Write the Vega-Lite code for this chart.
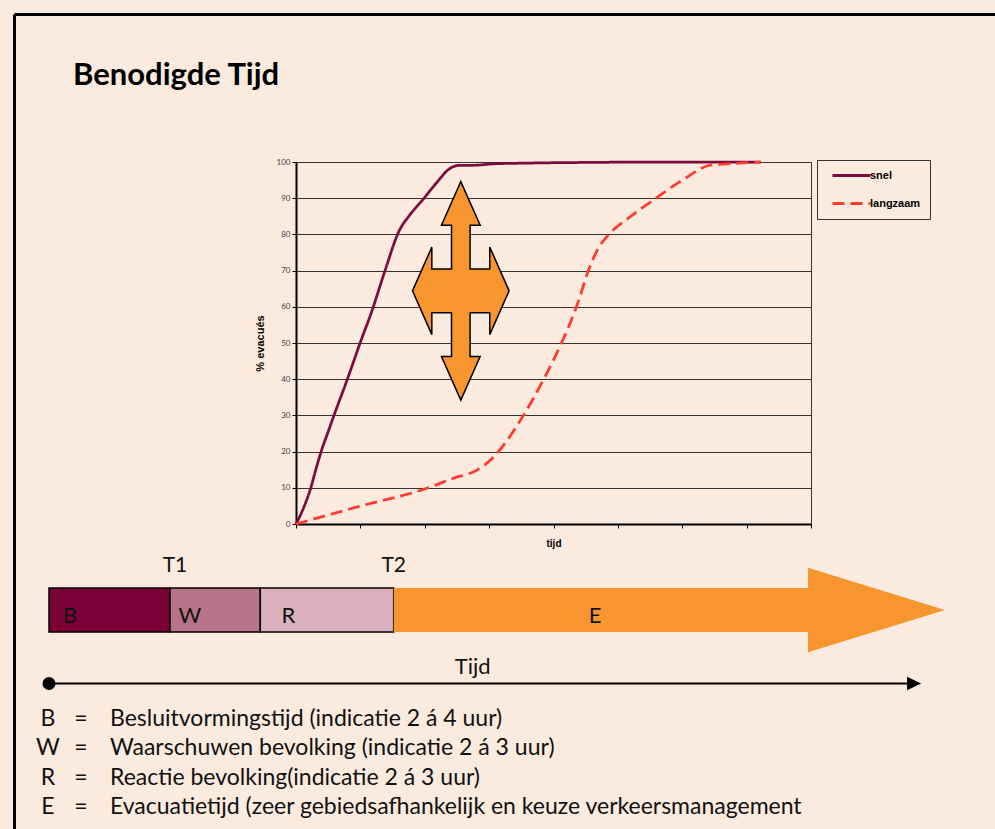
{
  "$schema": "https://vega.github.io/schema/vega-lite/v6.json",
  "background": "#fbeade",
  "padding": {"left": 12, "top": 13, "right": 0, "bottom": 0},
  "autosize": {"type": "pad"},
  "config": {"view": {"stroke": null}, "font": "Lato"},
  "datasets": {
    "curves": [
      {"reeks": "snel", "tijd": 0, "pct": 0},
      {"reeks": "snel", "tijd": 0.07, "pct": 2.5},
      {"reeks": "snel", "tijd": 0.13, "pct": 5},
      {"reeks": "snel", "tijd": 0.23, "pct": 10},
      {"reeks": "snel", "tijd": 0.3, "pct": 14.5},
      {"reeks": "snel", "tijd": 0.39, "pct": 20},
      {"reeks": "snel", "tijd": 0.5, "pct": 25.5},
      {"reeks": "snel", "tijd": 0.6, "pct": 30.5},
      {"reeks": "snel", "tijd": 0.79, "pct": 39.6},
      {"reeks": "snel", "tijd": 1.0, "pct": 50.2},
      {"reeks": "snel", "tijd": 1.18, "pct": 58.9},
      {"reeks": "snel", "tijd": 1.39, "pct": 70.4},
      {"reeks": "snel", "tijd": 1.6, "pct": 80.9},
      {"reeks": "snel", "tijd": 1.76, "pct": 85.2},
      {"reeks": "snel", "tijd": 1.97, "pct": 89.6},
      {"reeks": "snel", "tijd": 2.18, "pct": 94.2},
      {"reeks": "snel", "tijd": 2.39, "pct": 98.2},
      {"reeks": "snel", "tijd": 2.55, "pct": 99.1},
      {"reeks": "snel", "tijd": 2.76, "pct": 99.1},
      {"reeks": "snel", "tijd": 3.07, "pct": 99.5},
      {"reeks": "snel", "tijd": 3.6, "pct": 99.7},
      {"reeks": "snel", "tijd": 4.65, "pct": 99.9},
      {"reeks": "snel", "tijd": 5.7, "pct": 100},
      {"reeks": "snel", "tijd": 7.22, "pct": 100},
      {"reeks": "langzaam", "tijd": 0, "pct": 0},
      {"reeks": "langzaam", "tijd": 0.97, "pct": 4.8},
      {"reeks": "langzaam", "tijd": 2.02, "pct": 9.8},
      {"reeks": "langzaam", "tijd": 2.44, "pct": 12.6},
      {"reeks": "langzaam", "tijd": 2.81, "pct": 14.9},
      {"reeks": "langzaam", "tijd": 3.07, "pct": 18.5},
      {"reeks": "langzaam", "tijd": 3.28, "pct": 23.1},
      {"reeks": "langzaam", "tijd": 3.55, "pct": 30.5},
      {"reeks": "langzaam", "tijd": 3.81, "pct": 38.7},
      {"reeks": "langzaam", "tijd": 4.07, "pct": 47.9},
      {"reeks": "langzaam", "tijd": 4.23, "pct": 54.3},
      {"reeks": "langzaam", "tijd": 4.39, "pct": 61.7},
      {"reeks": "langzaam", "tijd": 4.54, "pct": 69.9},
      {"reeks": "langzaam", "tijd": 4.7, "pct": 76.3},
      {"reeks": "langzaam", "tijd": 4.86, "pct": 80},
      {"reeks": "langzaam", "tijd": 5.17, "pct": 84.6},
      {"reeks": "langzaam", "tijd": 5.6, "pct": 90.1},
      {"reeks": "langzaam", "tijd": 6.02, "pct": 95.2},
      {"reeks": "langzaam", "tijd": 6.43, "pct": 99.1},
      {"reeks": "langzaam", "tijd": 6.8, "pct": 99.6},
      {"reeks": "langzaam", "tijd": 7.22, "pct": 100}
    ],
    "kruispijl": [{"tijd": 2.56, "pct": 64.4}],
    "fasen": [
      {"fase": "B", "start": 0, "eind": 4.033, "labelpos": 0.707},
      {"fase": "W", "start": 4.033, "eind": 7.043, "labelpos": 4.693},
      {"fase": "R", "start": 7.043, "eind": 11.49, "labelpos": 7.983},
      {"fase": "E", "start": 11.49, "eind": 25.3, "labelpos": 18.2}
    ],
    "markeringen": [
      {"label": "T1", "t": 4.2},
      {"label": "T2", "t": 11.49}
    ],
    "uitleg": [
      {"code": "B", "regel": 0, "tekst": "Besluitvormingstijd (indicatie 2 á 4 uur)"},
      {"code": "W", "regel": 1, "tekst": "Waarschuwen bevolking (indicatie 2 á 3 uur)"},
      {"code": "R", "regel": 2, "tekst": "Reactie bevolking(indicatie 2 á 3 uur)"},
      {"code": "E", "regel": 3, "tekst": "Evacuatietijd (zeer gebiedsafhankelijk en keuze verkeersmanagement"}
    ],
    "leeg": [{}]
  },
  "bounds": "flush",
  "center": true,
  "spacing": 20,
  "vconcat": [
    {
      "width": 515,
      "height": 362,
      "view": {"stroke": "#333", "strokeWidth": 1},
      "layer": [
        {
          "data": {"name": "curves"},
          "mark": {"type": "line", "interpolate": "monotone", "strokeWidth": 2.75},
          "encoding": {
            "x": {
              "field": "tijd", "type": "quantitative",
              "scale": {"domain": [0, 8], "nice": false, "zero": false},
              "axis": {
                "title": "tijd", "values": [0, 1, 2, 3, 4, 5, 6, 7, 8], "tickCount": 9, "labels": false, "grid": false,
                "tickSize": 4, "tickColor": "#000", "domainColor": "#000", "domainWidth": 2,
                "titleFont": "Liberation Sans", "titleFontSize": 10, "titleFontWeight": "bold",
                "titleColor": "#000", "titlePadding": 10
              }
            },
            "y": {
              "field": "pct", "type": "quantitative",
              "scale": {"domain": [0, 100], "nice": false},
              "axis": {
                "title": "% evacués", "values": [0, 10, 20, 30, 40, 50, 60, 70, 80, 90, 100],
                "tickCount": 11, "labelOverlap": false,
                "grid": true, "gridColor": "#333", "gridWidth": 1,
                "tickSize": 4, "tickColor": "#000", "domainColor": "#000", "domainWidth": 2,
                "labelFont": "Lato", "labelFontSize": 8, "labelColor": "#444", "labelPadding": 2,
                "titleFont": "Liberation Sans", "titleFontSize": 11, "titleFontWeight": "bold",
                "titleColor": "#000", "titlePadding": 11
              }
            },
            "color": {
              "field": "reeks", "type": "nominal",
              "scale": {"domain": ["snel", "langzaam"], "range": ["#7a0c3e", "#ff3b30"]},
              "legend": {
                "orient": "none", "legendX": 768, "legendY": -2, "title": null,
                "strokeColor": "#333", "padding": 9, "symbolOffset": 19,
                "symbolType": "M-3.8,0L3.8,0", "symbolSize": 100, "symbolStrokeWidth": 3,
                "labelFont": "Liberation Sans", "labelFontSize": 11, "labelFontWeight": "bold",
                "labelColor": "#000", "labelOffset": 12, "rowPadding": 15
              }
            },
            "strokeDash": {
              "field": "reeks", "type": "nominal",
              "scale": {"domain": ["snel", "langzaam"], "range": [[1, 0], [12, 6]]},
              "legend": {
                "orient": "none", "legendX": 768, "legendY": -2, "title": null,
                "strokeColor": "#333", "padding": 9, "symbolOffset": 19,
                "symbolType": "M-3.8,0L3.8,0", "symbolSize": 100, "symbolStrokeWidth": 3,
                "labelFont": "Liberation Sans", "labelFontSize": 11, "labelFontWeight": "bold",
                "labelColor": "#000", "labelOffset": 12, "rowPadding": 15
              }
            }
          }
        },
        {
          "data": {"name": "kruispijl"},
          "mark": {
            "type": "point",
            "shape": "M0,-1L0.177,-0.6L0.085,-0.6L0.085,-0.2L0.265,-0.2L0.265,-0.4L0.442,0L0.265,0.4L0.265,0.2L0.085,0.2L0.085,0.6L0.177,0.6L0,1L-0.177,0.6L-0.085,0.6L-0.085,0.2L-0.265,0.2L-0.265,0.4L-0.442,0L-0.265,-0.4L-0.265,-0.2L-0.085,-0.2L-0.085,-0.6L-0.177,-0.6Z",
            "size": 47786, "filled": true, "fill": "#f7962f", "stroke": "#000",
            "strokeWidth": 1.5, "opacity": 1, "fillOpacity": 1
          },
          "encoding": {
            "x": {"field": "tijd", "type": "quantitative", "axis": {
                "title": "tijd", "values": [0, 1, 2, 3, 4, 5, 6, 7, 8], "tickCount": 9, "labels": false, "grid": false,
                "tickSize": 4, "tickColor": "#000", "domainColor": "#000", "domainWidth": 2,
                "titleFont": "Liberation Sans", "titleFontSize": 10, "titleFontWeight": "bold",
                "titleColor": "#000", "titlePadding": 10
              }},
            "y": {"field": "pct", "type": "quantitative", "axis": {
                "title": "% evacués", "values": [0, 10, 20, 30, 40, 50, 60, 70, 80, 90, 100],
                "tickCount": 11, "labelOverlap": false,
                "grid": true, "gridColor": "#333", "gridWidth": 1,
                "tickSize": 4, "tickColor": "#000", "domainColor": "#000", "domainWidth": 2,
                "labelFont": "Lato", "labelFontSize": 8, "labelColor": "#444", "labelPadding": 2,
                "titleFont": "Liberation Sans", "titleFontSize": 11, "titleFontWeight": "bold",
                "titleColor": "#000", "titlePadding": 11
              }}
          }
        }
      ]
    },
    {
      "width": 1009,
      "height": 300,
      "layer": [
        {
          "data": {"name": "leeg"},
          "mark": {"type": "rule", "stroke": "#000", "strokeWidth": 3},
          "encoding": {
            "x": {"datum": -1.15, "type": "quantitative", "scale": {"domain": [0, 33.633], "nice": false, "zero": false}, "axis": null},
            "y": {"datum": -24.283, "type": "quantitative", "scale": {"domain": [-6.212, 4.027], "nice": false, "zero": false, "reverse": true}, "axis": null},
            "y2": {"datum": 8}
          }
        },
        {
          "data": {"name": "leeg"},
          "mark": {"type": "rule", "stroke": "#000", "strokeWidth": 3},
          "encoding": {
            "x": {"datum": -1.15, "type": "quantitative"},
            "x2": {"datum": 40},
            "y": {"datum": -24.283, "type": "quantitative"}
          }
        },
        {
          "data": {"name": "leeg"},
          "mark": {"type": "text", "text": "Benodigde Tijd", "align": "left", "baseline": "alphabetic", "font": "Lato", "fontSize": 31, "fontWeight": "bold", "color": "#000"},
          "encoding": {
            "x": {"datum": 0.8, "type": "quantitative"},
            "y": {"datum": -21.877, "type": "quantitative"}
          }
        },
        {
          "data": {"name": "fasen"},
          "transform": [{"filter": "datum.fase !== 'E'"}],
          "mark": {"type": "rect", "stroke": "#000", "strokeWidth": 1.5},
          "encoding": {
            "x": {"field": "start", "type": "quantitative"},
            "x2": {"field": "eind"},
            "y": {"datum": -4.71, "type": "quantitative"},
            "y2": {"datum": -3.208},
            "fill": {"field": "fase", "type": "nominal", "scale": {"domain": ["B", "W", "R", "E"], "range": ["#7b0037", "#b77489", "#d9b0bb", "#f7962f"]}, "legend": null}
          }
        },
        {
          "data": {"name": "fasen"},
          "transform": [{"filter": "datum.fase === 'E'"}],
          "mark": {"type": "rect", "strokeWidth": 0},
          "encoding": {
            "x": {"field": "start", "type": "quantitative"},
            "x2": {"field": "eind"},
            "y": {"datum": -4.71, "type": "quantitative"},
            "y2": {"datum": -3.208},
            "fill": {"field": "fase", "type": "nominal", "legend": null}
          }
        },
        {
          "data": {"name": "fasen"},
          "transform": [{"filter": "datum.fase === 'E'"}],
          "mark": {"type": "point", "shape": "M0,-1L3.246,0L0,1Z", "size": 7123, "filled": true, "opacity": 1, "strokeWidth": 0},
          "encoding": {
            "x": {"field": "eind", "type": "quantitative"},
            "y": {"datum": -3.959, "type": "quantitative"},
            "fill": {"field": "fase", "type": "nominal", "legend": null}
          }
        },
        {
          "data": {"name": "fasen"},
          "mark": {"type": "text", "align": "center", "baseline": "alphabetic", "font": "Lato", "fontSize": 22, "color": "#111"},
          "encoding": {
            "x": {"field": "labelpos", "type": "quantitative"},
            "y": {"datum": -3.526, "type": "quantitative"},
            "text": {"field": "fase"}
          }
        },
        {
          "data": {"name": "markeringen"},
          "mark": {"type": "text", "align": "center", "baseline": "alphabetic", "font": "Lato", "fontSize": 21, "color": "#111"},
          "encoding": {
            "x": {"field": "t", "type": "quantitative"},
            "y": {"datum": -5.256, "type": "quantitative"},
            "text": {"field": "label"}
          }
        },
        {
          "data": {"name": "leeg"},
          "mark": {"type": "rule", "stroke": "#000", "strokeWidth": 2},
          "encoding": {
            "x": {"datum": 0, "type": "quantitative"},
            "x2": {"datum": 28.9},
            "y": {"datum": -1.451, "type": "quantitative"}
          }
        },
        {
          "data": {"name": "leeg"},
          "mark": {"type": "point", "shape": "circle", "size": 170, "filled": true, "color": "#000", "opacity": 1},
          "encoding": {
            "x": {"datum": 0, "type": "quantitative"},
            "y": {"datum": -1.451, "type": "quantitative"}
          }
        },
        {
          "data": {"name": "leeg"},
          "mark": {"type": "point", "shape": "M-2.09,-1L0,0L-2.09,1Z", "size": 180, "filled": true, "color": "#000", "opacity": 1},
          "encoding": {
            "x": {"datum": 29.07, "type": "quantitative"},
            "y": {"datum": -1.451, "type": "quantitative"}
          }
        },
        {
          "data": {"name": "leeg"},
          "mark": {"type": "text", "text": "Tijd", "align": "center", "baseline": "alphabetic", "font": "Lato", "fontSize": 22, "color": "#111"},
          "encoding": {
            "x": {"datum": 14.123, "type": "quantitative"},
            "y": {"datum": -1.775, "type": "quantitative"}
          }
        },
        {
          "data": {"name": "uitleg"},
          "mark": {"type": "text", "align": "center", "baseline": "alphabetic", "font": "Lato", "fontSize": 23, "color": "#111"},
          "encoding": {
            "x": {"datum": -0.033, "type": "quantitative"},
            "y": {"field": "regel", "type": "quantitative"},
            "text": {"field": "code"}
          }
        },
        {
          "data": {"name": "uitleg"},
          "mark": {"type": "text", "text": "=", "align": "center", "baseline": "alphabetic", "font": "Lato", "fontSize": 23, "color": "#111"},
          "encoding": {
            "x": {"datum": 1.067, "type": "quantitative"},
            "y": {"field": "regel", "type": "quantitative"}
          }
        },
        {
          "data": {"name": "uitleg"},
          "mark": {"type": "text", "align": "left", "baseline": "alphabetic", "font": "Lato", "fontSize": 23, "color": "#111"},
          "encoding": {
            "x": {"datum": 2.033, "type": "quantitative"},
            "y": {"field": "regel", "type": "quantitative"},
            "text": {"field": "tekst"}
          }
        }
      ]
    }
  ]
}
